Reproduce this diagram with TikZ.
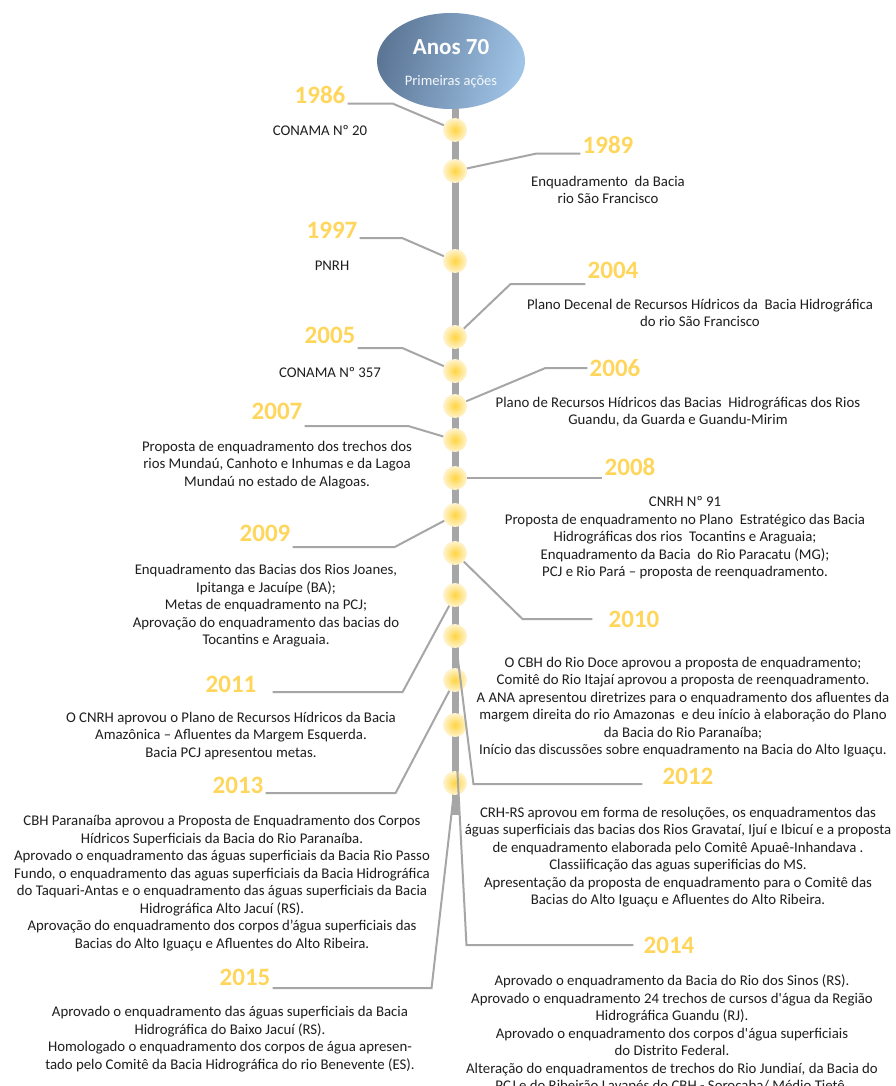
\documentclass[tikz,border=0pt]{standalone}
\usepackage{fontspec}
\setmainfont{Carlito}
\usetikzlibrary{shapes.geometric}

\definecolor{yeargold}{RGB}{255,214,92}
\definecolor{linegray}{RGB}{166,166,166}
\definecolor{textdark}{RGB}{30,30,30}
\definecolor{ovaldark}{RGB}{92,118,150}
\definecolor{ovallight}{RGB}{160,196,230}
\definecolor{dotcore}{RGB}{255,212,64}
\definecolor{dotrim}{RGB}{255,244,210}

\begin{document}
\begin{tikzpicture}[x=1pt, y=-1pt, align=center,
  year/.style={text=yeargold, font=\fontsize{25}{25}\selectfont\bfseries, inner sep=2pt},
  note/.style={text=textdark, font=\fontsize{14.8}{17.5}\selectfont, inner sep=0pt},
  dot/.style={circle, minimum size=24pt, inner sep=0pt, shade, inner color=dotcore, outer color=dotrim},
  link/.style={draw=linegray, line width=2pt},
  bar/.style={draw=linegray, line width=7pt}]
\useasboundingbox[fill=white] (0,0) rectangle (896,1086);

\path (451,61) node[ellipse, minimum width=148pt, minimum height=96pt, left color=ovaldark, right color=ovallight, shading angle=75] (oval) {}
      (451,47) node[text=white, font=\fontsize{23}{23}\selectfont\bfseries] (anos) {Anos 70}
      (451,82) node[text=white!88!ovallight, font=\fontsize{14.5}{14.5}\selectfont] (prim) {Primeiras ações};

\coordinate (barend) at (455,815);
\draw[bar] (oval.south -| barend) -- (barend);

\foreach \y [count=\i] in {130,171,261,337,371,406,440,478,515,553,595,636,680,725,783}
  \node[dot] (d\i) at (455,\y) {};

\path (320,95) node[year] (y86) {1986}
      (608,145) node[year] (y89) {1989}
      (332,230) node[year] (y97) {1997}
      (613,270) node[year] (y04) {2004}
      (330,335) node[year] (y05) {2005}
      (615,368) node[year] (y06) {2006}
      (277,411) node[year] (y07) {2007}
      (630,467) node[year] (y08) {2008}
      (265,533) node[year] (y09) {2009}
      (634,619) node[year] (y10) {2010}
      (231,684) node[year] (y11) {2011}
      (688,776) node[year] (y12) {2012}
      (238,785) node[year] (y13) {2013}
      (669,945) node[year] (y14) {2014}
      (245,977) node[year] (y15) {2015};

\draw[link] (y86.base east) -- ++(45,0) -- (d1);
\draw[link] (y89.base west) -- ++(-44,0) -- (d2);
\draw[link] (y97.base east) -- ++(43,0) -- (d3);
\draw[link] ([yshift=-6pt]y04.base west) -- ++(-75,0) -- (d4);
\draw[link] ([yshift=-5pt]y05.base east) -- ++(45,0) -- (d5);
\draw[link] (y06.west) -- ++(-42,0) -- (d6);
\draw[link] ([yshift=-7pt]y07.base east) -- ++(104,0) -- (d7);
\draw[link] (d8) -- (d8 -| y08.west);
\draw[link] ([yshift=-6pt]y09.base east) -- ++(102,0) -- (d9);
\draw[link] ([xshift=-14pt]y10.west) -- ++(-70,0) -- (d10);
\draw[link] ([xshift=14pt]y11.base east) -- ++(130,0) -- (d11);
\draw[link] ([xshift=-18pt]y12.base west) -- ++(-169,0) -- (d12);
\draw[link] (y13.base east) -- ++(130,0) -- (d13);
\draw[link] ([xshift=-8pt]y14.west) -- ++(-167,0) -- (d14);
\draw[link] ([yshift=-3pt]y15.base east) -- ++(159,0) -- (d15);

\path (320,130) node[note] (t86) {CONAMA Nº 20}
      (608,190) node[note] (t89) {Enquadramento\ \ da Bacia\\rio São Francisco}
      (332,266) node[note] (t97) {PNRH}
      (700,313) node[note] (t04) {Plano Decenal de Recursos Hídricos da\ \ Bacia Hidrográfica\\do rio São Francisco}
      (330,372) node[note] (t05) {CONAMA Nº 357}
      (678,412) node[note] (t06) {Plano de Recursos Hídricos das Bacias\ \ Hidrográficas dos Rios\\Guandu, da Guarda e Guandu-Mirim}
      (277,465) node[note] (t07) {Proposta de enquadramento dos trechos dos\\rios Mundaú, Canhoto e Inhumas e da Lagoa\\Mundaú no estado de Alagoas.}
      (685,538) node[note] (t08) {CNRH Nº 91\\Proposta de enquadramento no Plano\ \ Estratégico das Bacia\\Hidrográficas dos rios\ \ Tocantins e Araguaia;\\Enquadramento da Bacia\ \ do Rio Paracatu (MG);\\PCJ e Rio Pará – proposta de reenquadramento.}
      (266,606) node[note] (t09) {Enquadramento das Bacias dos Rios Joanes,\\Ipitanga e Jacuípe (BA);\\Metas de enquadramento na PCJ;\\Aprovação do enquadramento das bacias do\\Tocantins e Araguaia.}
      (683,707) node[note] (t10) {O CBH do Rio Doce aprovou a proposta de enquadramento;\\Comitê do Rio Itajaí aprovou a proposta de reenquadramento.\\A ANA apresentou diretrizes para o enquadramento dos afluentes da\\margem direita do rio Amazonas\ \ e deu início à elaboração do Plano\\da Bacia do Rio Paranaíba;\\Início das discussões sobre enquadramento na Bacia do Alto Iguaçu.}
      (231,736) node[note] (t11) {O CNRH aprovou o Plano de Recursos Hídricos da Bacia\\Amazônica – Afluentes da Margem Esquerda.\\Bacia PCJ apresentou metas.}
      (678,857) node[note] (t12) {CRH-RS aprovou em forma de resoluções, os enquadramentos das\\águas superficiais das bacias dos Rios Gravataí, Ijuí e Ibicuí e a proposta\\de enquadramento elaborada pelo Comitê Apuaê-Inhandava .\\Classiificação das aguas superificias do MS.\\Apresentação da proposta de enquadramento para o Comitê das\\Bacias do Alto Iguaçu e Afluentes do Alto Ribeira.}
      (222,883) node[note] (t13) {CBH Paranaíba aprovou a Proposta de Enquadramento dos Corpos\\Hídricos Superficiais da Bacia do Rio Paranaíba.\\Aprovado o enquadramento das águas superficiais da Bacia Rio Passo\\Fundo, o enquadramento das aguas superficiais da Bacia Hidrográfica\\do Taquari-Antas e o enquadramento das águas superficiais da Bacia\\Hidrográfica Alto Jacuí (RS).\\Aprovação do enquadramento dos corpos d’água superficiais das\\Bacias do Alto Iguaçu e Afluentes do Alto Ribeira.}
      (672,1034) node[note] (t14) {Aprovado o enquadramento da Bacia do Rio dos Sinos (RS).\\Aprovado o enquadramento 24 trechos de cursos d\textquotesingle água da Região\\Hidrográfica Guandu (RJ).\\Aprovado o enquadramento dos corpos d\textquotesingle água superficiais\\do Distrito Federal.\\Alteração do enquadramentos de trechos do Rio Jundiaí, da Bacia do\\PCJ e do Ribeirão Lavapés do CBH - Sorocaba/ Médio Tietê.}
      (230,1039) node[note] (t15) {Aprovado o enquadramento das águas superficiais da Bacia\\Hidrográfica do Baixo Jacuí (RS).\\Homologado o enquadramento dos corpos de água apresen-\\tado pelo Comitê da Bacia Hidrográfica do rio Benevente (ES).};
\end{tikzpicture}
\end{document}
